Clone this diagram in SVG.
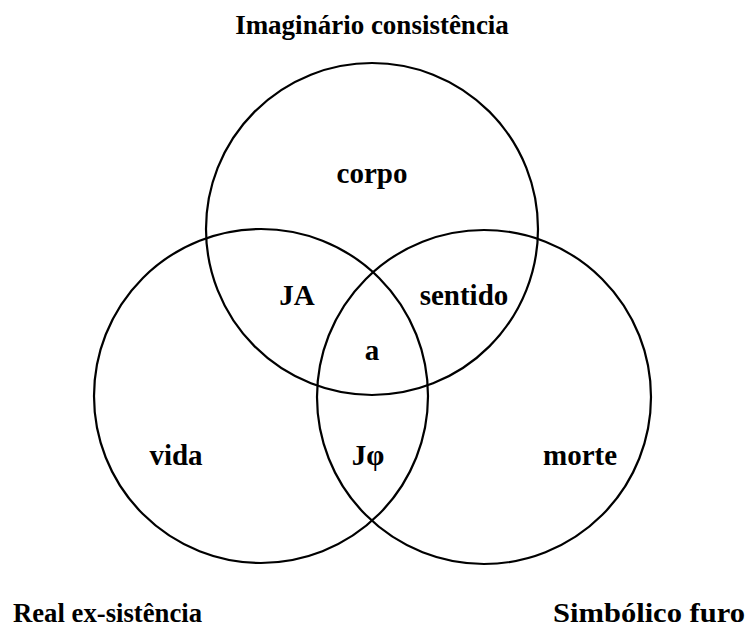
<svg xmlns="http://www.w3.org/2000/svg" width="754" height="631" viewBox="0 0 754 631">
<style>
.c{fill:none;stroke:#000;stroke-width:2.2}
.t{font-family:"Liberation Serif","Times New Roman",serif;font-weight:bold;font-size:29px;fill:#000}
.h{font-family:"Liberation Serif","Times New Roman",serif;font-weight:bold;font-size:27px;fill:#000}
</style>
<rect width="754" height="631" fill="#fff"/>
<g id="imaginario">
<circle class="c" cx="372" cy="229" r="166"/>
<text class="h" x="372" y="34" text-anchor="middle">Imaginário consistência</text>
<text class="t" x="372" y="183" text-anchor="middle">corpo</text>
</g>
<g id="real">
<circle class="c" cx="261" cy="396" r="167"/>
<text class="h" x="13" y="622" textLength="189" lengthAdjust="spacingAndGlyphs">Real ex-sistência</text>
<text class="t" x="176" y="465" text-anchor="middle">vida</text>
</g>
<g id="simbolico">
<circle class="c" cx="484" cy="397" r="167"/>
<text class="h" x="553" y="622" textLength="192" lengthAdjust="spacingAndGlyphs">Simbólico furo</text>
<text class="t" x="580" y="465" text-anchor="middle">morte</text>
</g>
<g id="intersections">
<text class="t" x="297" y="305" text-anchor="middle">JA</text>
<text class="t" x="464" y="305" text-anchor="middle">sentido</text>
<text class="t" x="372" y="360" text-anchor="middle">a</text>
<text class="t" x="368" y="465" text-anchor="middle">Jφ</text>
</g>
<g id="connectors"/>
</svg>
